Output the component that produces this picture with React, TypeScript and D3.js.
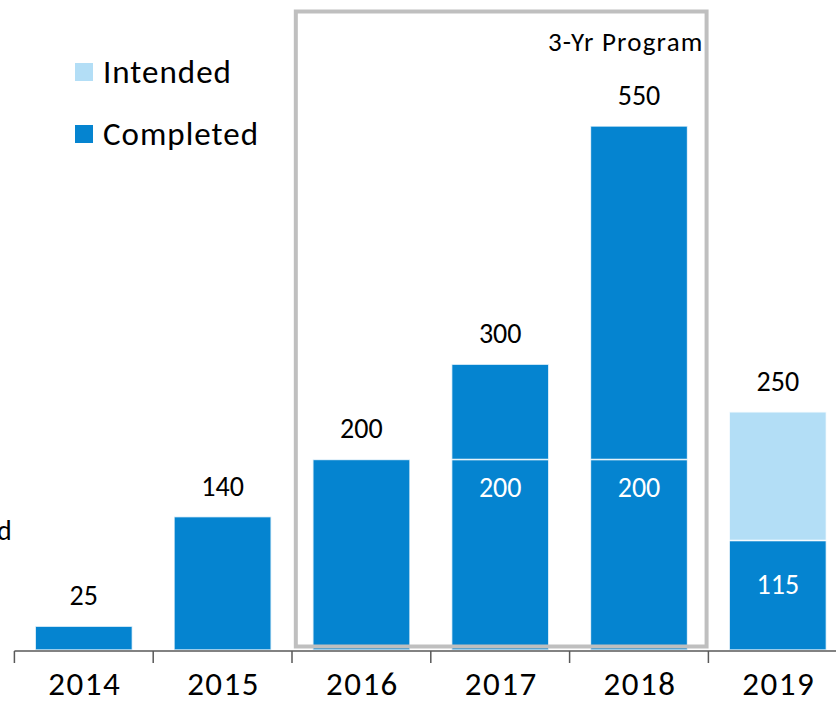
import * as d3 from "d3";

const years = ["2014", "2015", "2016", "2017", "2018", "2019"];
// completed within the base program, completed on top of it, still intended
const completedBase = [25, 140, 200, 200, 200, 115];
const completedExtra = [0, 0, 0, 100, 350, 0];
const intended = [0, 0, 0, 0, 0, 135];
const totals = [25, 140, 200, 300, 550, 250];
const programYears = ["2016", "2017", "2018"];

const W = 836;
const H = 702;
const dark = "#0584D0";
const light = "#B3DEF6";
const font = "Carlito, Calibri, Lato, sans-serif";

const App = () => {
  const x = d3
    .scaleBand()
    .domain(years)
    .range([14.4, 847.2])
    .paddingInner(0.3)
    .paddingOuter(0.15);
  const y = d3.scaleLinear().domain([0, 550]).range([650, 126]);
  const bw = x.bandwidth();
  const step = x.step();

  const rows = years.map((yr, i) => ({
    year: yr,
    base: completedBase[i],
    extra: completedExtra[i],
    intended: intended[i],
  }));
  const stack = d3.stack().keys(["base", "extra", "intended"]);
  const series = stack(rows as any);
  const colors: Record<string, string> = { base: dark, extra: dark, intended: light };

  const ticks = d3.range(years.length + 1).map((k) => 14.4 + k * step);

  const boxL = x(programYears[0])! - 17;
  const boxR = x(programYears[2])! + bw + 19;

  return (
    <svg
      width={W}
      height={H}
      style={{ position: "absolute", left: 0, top: 0, background: "#fff" }}
      fontFamily={font}
    >
      {series.map((s) =>
        s.map((d, i) => {
          const h = y(d[0]) - y(d[1]);
          if (h <= 0) return null;
          return (
            <rect
              key={s.key + i}
              x={x(years[i])}
              y={y(d[1])}
              width={bw}
              height={h}
              fill={colors[s.key]}
              stroke="#fff"
              strokeWidth={1.5}
              strokeOpacity={0.8}
            />
          );
        })
      )}

      {/* base values shown inside when something sits on top */}
      {rows.map((r, i) => {
        if (r.extra === 0 && r.intended === 0) return null;
        const top = y(r.base);
        const off = r.intended > 0 ? 54 : 38;
        return (
          <text
            key={"in" + i}
            x={x(r.year)! + bw / 2}
            y={top + off}
            fill="#fff"
            fontSize={28}
            textAnchor="middle"
          >
            {r.base}
          </text>
        );
      })}

      {totals.map((t, i) => (
        <text
          key={"tot" + i}
          x={x(years[i])! + bw / 2}
          y={y(t) - 21}
          fontSize={28}
          textAnchor="middle"
          fill="#000"
        >
          {t}
        </text>
      ))}

      {/* 3-year program box */}
      <rect
        x={boxL}
        y={11.5}
        width={boxR - boxL}
        height={635}
        fill="none"
        stroke="#BFBFBF"
        strokeWidth={4}
      />
      <text
        x={boxR - 3}
        y={51}
        fontSize={27}
        letterSpacing={1.2}
        textAnchor="end"
        fill="#000"
      >
        3-Yr Program
      </text>

      {/* axis */}
      <line x1={14.4} x2={W} y1={651} y2={651} stroke="#595959" strokeWidth={1.5} />
      {ticks.map((t, i) => (
        <line key={"t" + i} x1={t} x2={t} y1={651} y2={663} stroke="#595959" strokeWidth={1.5} />
      ))}
      {years.map((yr) => (
        <text
          key={"l" + yr}
          x={x(yr)! + bw / 2 + 1}
          y={695}
          fontSize={33}
          letterSpacing={1.5}
          textAnchor="middle"
          fill="#000"
        >
          {yr}
        </text>
      ))}

      {/* legend */}
      <rect x={75} y={63} width={18} height={18} fill={light} />
      <text x={103} y={83} fontSize={33} letterSpacing={1} fill="#000">
        Intended
      </text>
      <rect x={75} y={125} width={18} height={18} fill={dark} />
      <text x={103} y={145} fontSize={33} letterSpacing={1} fill="#000">
        Completed
      </text>

      {/* clipped label fragment at the left edge */}
      <text x={-3} y={540} fontSize={28} fill="#000">
        d
      </text>
    </svg>
  );
};

export default App;
